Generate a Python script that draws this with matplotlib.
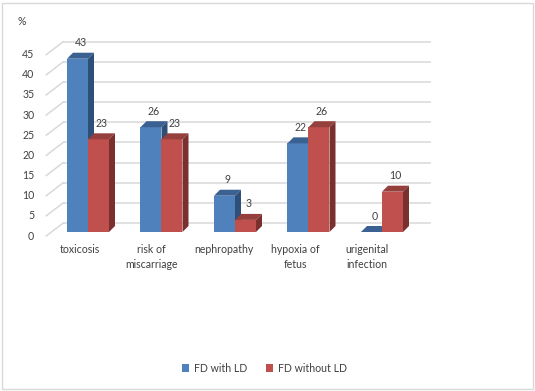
import matplotlib
matplotlib.use("Agg")
import matplotlib.pyplot as plt
from matplotlib.patches import Polygon, Rectangle, Patch

categories = ["toxicosis", "risk of\nmiscarriage", "nephropathy", "hypoxia of\nfetus", "urigenital\ninfection"]
series_names = ["FD with LD", "FD without LD"]
with_ld = [43, 26, 9, 22, 0]
without_ld = [23, 23, 3, 26, 10]
y_ticks = [0, 5, 10, 15, 20, 25, 30, 35, 40, 45]
y_unit = "%"

front_cols = ["#4F81BD", "#C0504D"]
top_cols = ["#3A6192", "#96403D"]
side_cols = ["#2E4F78", "#7A302E"]
FONT = "Lato"
FS = 7.6
TXT = "#404040"

W, H = 535, 391
fig = plt.figure(figsize=(W / 100, H / 100), dpi=100)
ax = fig.add_axes([0, 0, 1, 1])
ax.set_axis_off()

PXX = 73.5   # px per category
PXY = 4.03   # px per value unit
x0px, y0px = 88, 232   # first category centre / baseline in px (top-down)
ax.set_xlim(-x0px / PXX, (W - x0px) / PXX)
ax.set_ylim(-(H - y0px) / PXY, y0px / PXY)

def dx(px):
    return px / PXX

def dy(px):
    return px / PXY

# back wall gridlines and left wall diagonals
bdx, bdy = dx(12), dy(9)
fdx, fdy = dx(-5), dy(-4)
left, right = -0.5, len(categories) - 0.5
for t in y_ticks:
    ax.plot([left + bdx, right + bdx], [t + bdy, t + bdy], color="#D9D9D9", lw=1.1, zorder=1,
            solid_capstyle="butt")
    ax.plot([left + fdx, left + bdx], [t + fdy, t + bdy], color="#D9D9D9", lw=1.1, zorder=1)
    ax.text(left + fdx - dx(12), t + fdy, str(t), ha="right", va="center", fontsize=FS,
            family=FONT, color=TXT)
ax.text(dx(21.7 - x0px), dy(y0px - 21.7), y_unit, ha="center", va="center", fontsize=FS,
        family=FONT, color=TXT)

bw = dx(21)
ddx, ddy = dx(6), dy(6)
for s, vals in enumerate([with_ld, without_ld]):
    for i, v in enumerate(vals):
        xl = i - bw + s * bw
        z = 3 + s
        ax.add_patch(Rectangle((xl, 0), bw, v, facecolor=front_cols[s], edgecolor="none", zorder=z))
        ax.add_patch(Polygon([(xl, v), (xl + bw, v), (xl + bw + ddx, v + ddy), (xl + ddx, v + ddy)],
                             closed=True, facecolor=top_cols[s], edgecolor="none", zorder=z))
        ax.add_patch(Polygon([(xl + bw, 0), (xl + bw + ddx, ddy), (xl + bw + ddx, v + ddy), (xl + bw, v)],
                             closed=True, facecolor=side_cols[s], edgecolor="none", zorder=z))
        ax.text(xl + bw / 2 + dx(3), v + dy(16), str(v), ha="center", va="center", fontsize=FS,
                family=FONT, color=TXT, zorder=6)

for i, c in enumerate(categories):
    ax.text(i - dx(8 + 1.75 * i), -dy(12), c, ha="center", va="top", fontsize=FS, family=FONT,
            color=TXT, linespacing=1.45)

handles = [Patch(facecolor=front_cols[k], edgecolor="none") for k in range(2)]
leg = fig.legend(handles, series_names, loc="center", bbox_to_anchor=(0.494, 1 - 368 / H), ncol=2,
                 frameon=False, prop={"family": FONT, "size": FS}, handlelength=0.7, handleheight=0.7,
                 handletextpad=0.4, columnspacing=1.8, borderpad=0)
for t in leg.get_texts():
    t.set_color(TXT)

fig.add_artist(Rectangle((2 / W, 2 / H), (W - 4) / W, (H - 5) / H, transform=fig.transFigure,
                         fill=False, edgecolor="#D9D9D9", lw=1.0))

fig.savefig("out.png", dpi=100)
